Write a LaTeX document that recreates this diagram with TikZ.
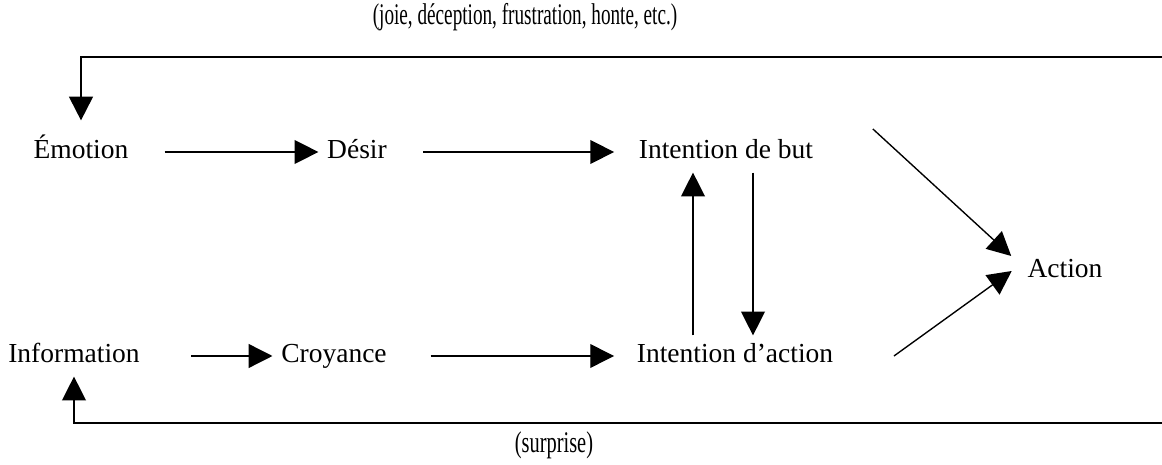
\documentclass[tikz,border=0pt]{standalone}
\usepackage{fontspec}
\setmainfont{Liberation Serif}
\usepackage{tikz}
\usetikzlibrary{arrows.meta}

\begin{document}
\begin{tikzpicture}[x=0.4pt, y=-0.4pt, font=\fontsize{11}{13}\selectfont,
    term/.style={text height=1.6ex, text depth=0.45ex},
    flow/.style={-{Triangle[length=9.5pt, width=9.5pt]}, line width=0.55pt},
    loopline/.style={flow, line width=0.8pt}]
    \useasboundingbox (0,0) rectangle (1162,465);
    % Emotion / information loop towards action
    \node (emo) at (81,152) [term] {Émotion};
    \node (des) at (357,152) [term] {Désir};
    \node (idb) at (726,152) [term] {Intention de but};
    \node (info) at (74,356) [term] {Information};
    \node (croy) at (334,356) [term] {Croyance};
    \node (ida) at (735,356) [term] {Intention d'action};
    \node (act) at (1065,271) [term] {Action};

    \node (fbtop) at (525,18) [term, font=\fontsize{12}{14}\selectfont] {\scalebox{0.64}[1]{(joie, déception, frustration, honte, etc.)}};
    \node (fbbot) at (554,446) [term, font=\fontsize{12}{14}\selectfont] {\scalebox{0.68}[1]{(surprise)}};

    \coordinate (topR) at (1162,57);
    \coordinate (botR) at (1162,423);
    \coordinate (upx) at (693,0);
    \coordinate (dnx) at (753,0);

    \draw [flow, shorten <=11pt] (emo) -- (des);
    \draw [flow, shorten <=11pt, shorten >=6.4pt] (des) -- (idb);
    \draw [flow, shorten <=17pt] (info) -- (croy);
    \draw [flow, shorten <=14pt, shorten >=5.6pt] (croy) -- (ida);

    \draw [flow] (upx |- ida.north) -- (upx |- idb.south);
    \draw [flow] (dnx |- idb.south) -- (dnx |- ida.north);

    \draw [flow] ([shift={(20.4pt,9.2pt)}]idb.east) -- ([shift={(-3pt,6pt)}]act.west);
    \draw [flow] ([xshift=20.8pt]ida.east) -- ([xshift=-2.8pt]act.west);

    \draw [loopline, shorten >=4.4pt] (topR) -| (emo);
    \draw [flow] (botR) -| (info);
\end{tikzpicture}
\end{document}
